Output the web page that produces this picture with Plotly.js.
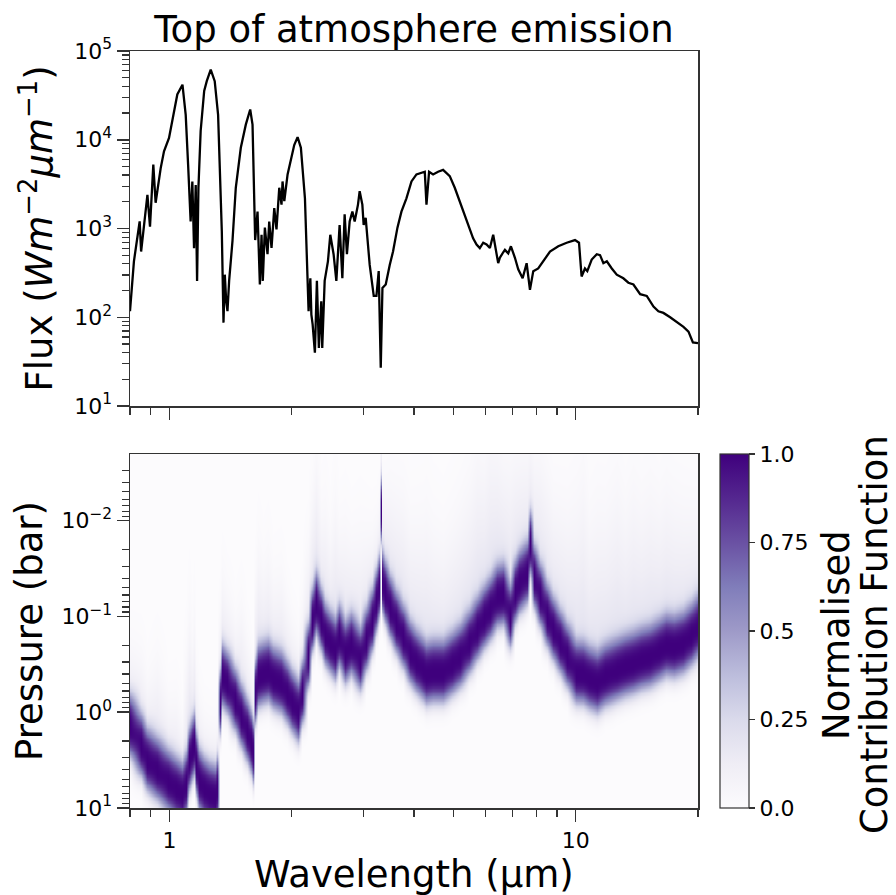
<!DOCTYPE html>
<html><head><meta charset="utf-8">
<script src="https://cdn.plot.ly/plotly-3.0.1.min.js"></script>
<style>html,body{margin:0;padding:0;background:#fff}</style>
</head><body><div id="chart" style="width:896px;height:895px"></div>
<script>
// ---- Top panel: emission spectrum (wavelength in micron, flux in W m^-2 um^-1)
const wavelength = [0.800,0.818,0.845,0.852,0.883,0.896,0.913,0.925,0.952,0.970,0.998,1.027,1.046,1.077,1.097,1.112,1.118,1.128,1.139,1.150,1.161,1.170,1.179,1.194,1.218,1.236,1.264,1.293,1.318,1.334,1.346,1.359,1.369,1.380,1.390,1.403,1.430,1.457,1.499,1.542,1.581,1.602,1.617,1.626,1.648,1.670,1.686,1.698,1.718,1.744,1.761,1.784,1.812,1.835,1.864,1.888,1.899,1.918,1.954,1.991,2.029,2.068,2.107,2.156,2.189,2.201,2.223,2.236,2.252,2.281,2.307,2.333,2.365,2.378,2.411,2.456,2.489,2.536,2.576,2.624,2.665,2.700,2.735,2.778,2.821,2.858,2.912,2.940,2.985,3.007,3.042,3.112,3.184,3.233,3.275,3.313,3.345,3.408,3.486,3.552,3.642,3.725,3.832,3.943,4.056,4.252,4.293,4.357,4.457,4.585,4.717,4.899,5.040,5.185,5.335,5.488,5.592,5.702,5.808,5.921,6.035,6.150,6.266,6.446,6.508,6.632,6.696,6.823,6.928,7.087,7.221,7.403,7.573,7.717,7.863,8.087,8.320,8.645,9.060,9.502,9.961,10.19,10.34,10.54,10.68,10.95,11.27,11.48,11.70,11.93,12.27,12.62,13.10,13.48,13.87,14.41,14.96,15.54,15.98,16.44,17.08,17.74,18.42,18.95,19.43,20.0];
const flux = [117,427,1202,550,2400,1047,5250,1950,4790,7410,10470,20900,32400,41700,19050,5250,2400,1200,3390,600,3090,257,2880,12600,35500,45700,61700,45700,19050,3390,933,87,302,151,117,257,724,2880,8130,14800,21900,14800,1700,741,1550,234,851,257,1023,513,1200,603,1700,977,2880,1860,3390,2040,4070,5750,8710,10700,8130,2190,355,117,275,107,83,40,257,45,151,45,257,427,851,513,257,1096,275,1445,513,1200,1550,1200,1860,2630,1860,1096,1318,389,174,174,331,27,214,234,389,550,1023,1550,2190,3390,4070,4365,1860,4365,4070,4365,4570,3890,2880,2040,1445,1023,776,661,603,692,661,603,851,407,468,540,575,525,631,468,347,275,407,204,331,355,427,550,631,692,741,692,288,355,331,447,513,501,407,427,355,302,275,245,234,182,174,132,117,112,100,89,78,69,52,51];

// ---- Bottom panel: contribution function peak (log10 pressure in bar) and upward haze extent (dex) per wavelength
const cfWavelength = [0.80,0.85,0.883,0.93,0.99,1.04,1.077,1.10,1.12,1.135,1.15,1.165,1.184,1.22,1.252,1.293,1.31,1.33,1.351,1.39,1.45,1.50,1.55,1.586,1.61,1.625,1.65,1.70,1.744,1.80,1.881,1.95,2.00,2.068,2.12,2.189,2.25,2.30,2.36,2.42,2.48,2.55,2.62,2.70,2.80,2.94,3.05,3.15,3.22,3.28,3.31,3.34,3.39,3.50,3.62,3.75,3.90,4.05,4.21,4.29,4.45,4.71,4.95,5.18,5.45,5.70,5.95,6.15,6.40,6.63,6.89,7.10,7.27,7.57,7.72,7.90,8.16,8.50,8.81,9.15,9.50,10.0,10.4,10.8,11.27,11.8,12.62,13.2,13.87,14.5,15.25,16.0,16.7,17.5,18.4,19.2,20.0];
const cfPeakLogP = [0.15,0.35,0.50,0.60,0.72,0.80,0.85,0.75,0.50,0.40,0.35,0.55,0.72,0.80,0.85,0.88,0.80,-0.10,-0.37,-0.30,-0.12,0.05,0.20,0.32,0.42,-0.20,-0.37,-0.40,-0.42,-0.35,-0.30,-0.20,-0.10,-0.01,-0.20,-0.58,-0.95,-1.12,-0.95,-0.80,-0.72,-0.65,-0.78,-0.62,-0.70,-0.55,-0.75,-0.95,-1.15,-1.30,-2.10,-1.35,-1.24,-1.08,-0.93,-0.78,-0.61,-0.52,-0.44,-0.40,-0.42,-0.42,-0.50,-0.58,-0.72,-0.86,-0.98,-1.07,-1.20,-1.22,-1.00,-1.25,-1.35,-1.45,-1.75,-1.40,-1.21,-1.00,-0.86,-0.72,-0.58,-0.41,-0.40,-0.35,-0.31,-0.38,-0.44,-0.48,-0.51,-0.55,-0.58,-0.64,-0.69,-0.68,-0.72,-0.80,-0.89];
const cfHazeDex = [0.45,0.50,0.45,0.60,0.45,0.50,0.40,0.70,0.80,0.60,0.70,0.50,0.45,0.40,0.40,0.40,0.40,0.50,0.55,0.50,0.45,0.60,0.50,0.45,0.40,0.60,0.70,0.60,0.65,0.55,0.60,0.50,0.45,0.40,0.50,0.60,0.70,0.80,0.60,0.70,0.60,0.80,0.60,0.70,0.60,0.70,0.60,0.50,0.45,0.45,0.50,0.55,0.60,0.70,0.75,0.80,0.75,0.80,0.85,0.90,0.80,0.75,0.80,0.85,0.90,1.00,0.90,1.00,0.90,0.80,0.90,0.80,0.75,0.70,0.60,0.70,0.80,0.80,0.75,0.80,0.85,1.00,1.10,0.90,1.00,0.95,1.05,0.90,1.00,0.90,0.95,0.85,0.90,0.85,0.80,0.75,0.70];

// ---- Tick labels
const fluxTickVals = [10,100,1000,10000,100000];
const fluxTickText = ['10<sup>1</sup>','10<sup>2</sup>','10<sup>3</sup>','10<sup>4</sup>','10<sup>5</sup>'];
const pressureTickVals = [10,1,0.1,0.01];
const pressureTickText = ['10<sup>1</sup>','10<sup>0</sup>','10<sup>\u22121</sup>','10<sup>\u22122</sup>'];
const waveTickVals = [1,10];
const waveTickText = ['1','10'];
const cbTickVals = [0,0.25,0.5,0.75,1];
const cbTickText = ['0.0','0.25','0.5','0.75','1.0'];

// minor tick positions (2..9 within each decade)
function minorVals(lo, hi){const v=[];for(let e=lo;e<=hi;e++){for(let m=2;m<=9;m++)v.push(m*Math.pow(10,e));}return v;}
const xMinor = [0.8,0.9].concat(minorVals(0,0)).concat([20]);
const fluxMinor = minorVals(1,4);
const presMinor = minorVals(-3,0).filter(v=>v>0.00203);

// ---- Build contribution-function grid from the tables above
const logPGrid = [];
for(let lp=-2.76; lp<=1.06; lp+=0.015) logPGrid.push(lp);
const pGrid = logPGrid.map(lp=>Math.pow(10,lp));
const cfZ = logPGrid.map(lp => cfPeakLogP.map((c, j) => {
  const d = lp - c;
  if(d >= 0) return Math.exp(-Math.pow(d/0.32,3));
  const u = -d;
  return 0.8*Math.exp(-Math.pow(u/0.33,3)) + 0.2*Math.exp(-0.5*Math.pow(u/cfHazeDex[j],2));
}));

const purples = [[0,'#fcfbfd'],[0.125,'#efedf5'],[0.25,'#dadaeb'],[0.375,'#bcbddc'],[0.5,'#9e9ac8'],[0.625,'#807dba'],[0.75,'#6a51a3'],[0.875,'#54278f'],[1,'#3f007d']];

const FONT = 'DejaVu Sans, Liberation Sans, sans-serif';
const AX = '#333333';
const xRange = [Math.log10(0.8), Math.log10(20)];

const traces = [
  {type:'scatter', mode:'lines', x:wavelength, y:flux, xaxis:'x', yaxis:'y',
   line:{color:'#000000', width:2.3}, showlegend:false, hoverinfo:'skip'},
  {type:'heatmap', x:cfWavelength, y:pGrid, z:cfZ, xaxis:'x2', yaxis:'y2',
   colorscale:purples, zmin:0, zmax:1, zsmooth:'best',
   colorbar:{x:1.0387, xanchor:'left', xref:'paper', y:0, yanchor:'bottom', yref:'paper',
     len:0.4676, lenmode:'fraction', thickness:29, thicknessmode:'pixels', xpad:0, ypad:0,
     outlinewidth:1.2, outlinecolor:AX, tickmode:'array', tickvals:cbTickVals, ticktext:cbTickText,
     ticks:'outside', ticklen:6, tickwidth:1.2, tickcolor:AX, tickfont:{size:22, color:'#000', family:FONT}}}
];

const baseAxis = {showgrid:false, zeroline:false, showline:true, mirror:true, linecolor:AX, linewidth:1.5,
  ticks:'outside', tickcolor:AX, tickwidth:1.5, ticklen:12, tickfont:{size:22, family:FONT, color:'#000'}};

const layout = {
  width:896, height:895,
  margin:{l:130, r:198, t:51, b:87},
  paper_bgcolor:'#ffffff', plot_bgcolor:'#ffffff',
  font:{family:FONT, color:'#000'},
  title:{text:'Top of atmosphere emission', font:{size:37, family:FONT, color:'#000'},
    x:0.5, xref:'paper', xanchor:'center', y:1-29/895, yref:'container', yanchor:'middle'},
  xaxis:Object.assign({}, baseAxis, {type:'log', range:xRange, domain:[0,1], anchor:'y',
    tickmode:'array', tickvals:waveTickVals, ticktext:waveTickText, showticklabels:false,
    minor:{tickmode:'array', tickvals:xMinor, ticks:'outside', ticklen:7, tickwidth:1.2, tickcolor:AX, showgrid:false}}),
  yaxis:Object.assign({}, baseAxis, {type:'log', range:[1,5], domain:[0.531,1], anchor:'x',
    tickmode:'array', tickvals:fluxTickVals, ticktext:fluxTickText,
    minor:{tickmode:'array', tickvals:fluxMinor, ticks:'outside', ticklen:7, tickwidth:1.2, tickcolor:AX, showgrid:false}}),
  xaxis2:Object.assign({}, baseAxis, {type:'log', range:xRange, domain:[0,1], anchor:'y2',
    tickmode:'array', tickvals:waveTickVals, ticktext:waveTickText,
    minor:{tickmode:'array', tickvals:xMinor, ticks:'outside', ticklen:7, tickwidth:1.2, tickcolor:AX, showgrid:false}}),
  yaxis2:Object.assign({}, baseAxis, {type:'log', range:[1,Math.log10(0.002023)], domain:[0,0.4676], anchor:'x2',
    tickmode:'array', tickvals:pressureTickVals, ticktext:pressureTickText,
    minor:{tickmode:'array', tickvals:presMinor, ticks:'outside', ticklen:7, tickwidth:1.2, tickcolor:AX, showgrid:false}}),
  annotations:[
    {text:'Flux (<i>Wm</i><sup>\u22122</sup><i>\u03bcm</i><sup>\u22121</sup>)', textangle:-90, showarrow:false,
     xref:'paper', yref:'paper', x:(37-130)/568, y:1-(228.5-51)/757, xanchor:'center', yanchor:'middle',
     font:{size:37, family:FONT, color:'#000'}},
    {text:'Pressure (bar)', textangle:-90, showarrow:false,
     xref:'paper', yref:'paper', x:(29-130)/568, y:1-(631-51)/757, xanchor:'center', yanchor:'middle',
     font:{size:37, family:FONT, color:'#000'}},
    {text:'Wavelength (\u00b5m)', showarrow:false,
     xref:'paper', yref:'paper', x:0.5, y:1-(874-51)/757, xanchor:'center', yanchor:'middle',
     font:{size:37, family:FONT, color:'#000'}},
    {text:'Normalised', textangle:-90, showarrow:false,
     xref:'paper', yref:'paper', x:(836-130)/568, y:1-(635-51)/757, xanchor:'center', yanchor:'middle',
     font:{size:37, family:FONT, color:'#000'}},
    {text:'Contribution Function', textangle:-90, showarrow:false,
     xref:'paper', yref:'paper', x:(874-130)/568, y:1-(635-51)/757, xanchor:'center', yanchor:'middle',
     font:{size:37, family:FONT, color:'#000'}}
  ]
};

Plotly.newPlot('chart', traces, layout, {staticPlot:true, displayModeBar:false});
</script></body></html>
